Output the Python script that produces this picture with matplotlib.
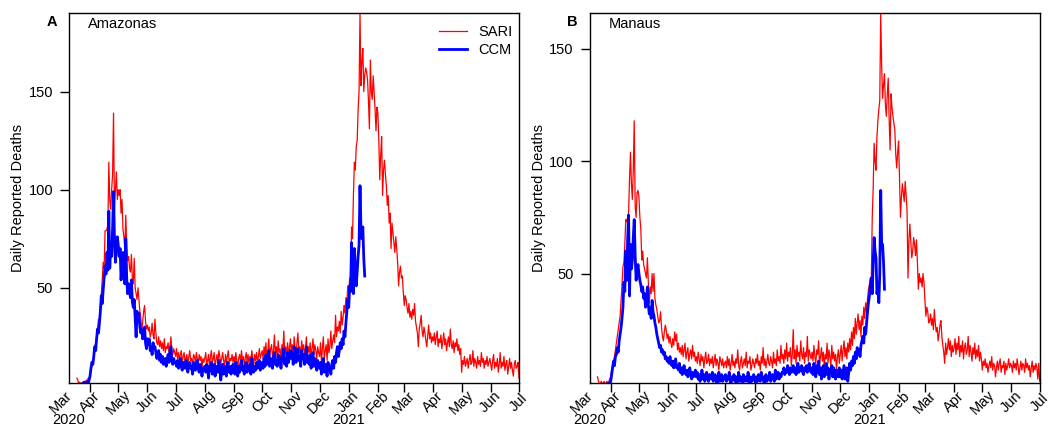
import numpy as np
import pandas as pd
import matplotlib
matplotlib.use('Agg')
import matplotlib.pyplot as plt
import matplotlib.dates as mdates
import matplotlib.transforms as mtrans

plt.rcParams['font.family'] = ['Liberation Sans', 'DejaVu Sans']
plt.rcParams['font.size'] = 10.5

# daily reported deaths, Amazonas, SARI (from 2020-03-18)
sari_am = [
    4, 3, 1, 2, 1, 1, 2, 1, 2, 1, 3, 2, 4, 3,
    5, 8, 10, 12, 14, 19, 22, 25, 29, 34, 31, 40, 47, 54, 63, 60, 79, 79, 80, 82, 114, 95, 90, 100, 108, 139, 90, 100, 109, 95,
    100, 97, 100, 88, 95, 80, 76, 70, 87, 72, 64, 66, 60, 58, 67, 55, 52, 65, 50, 47, 44, 50, 44, 38, 35, 27, 33, 38, 41, 33, 29,
    31, 28, 30, 25, 27, 32, 26, 24, 34, 27, 22, 21, 25, 20, 23, 19, 22, 18, 24, 17, 20, 19, 22, 17, 20, 25, 18, 16, 19, 17,
    15, 19, 14, 17, 13, 16, 18, 12, 15, 17, 13, 14, 16, 11, 15, 18, 13, 14, 10, 16, 15, 12, 17, 14, 11, 16, 13, 15, 9, 14, 12,
    14, 17, 11, 13, 16, 9, 15, 18, 12, 14, 17, 10, 13, 16, 12, 18, 15, 11, 14, 17, 13, 9, 16, 12, 15, 18, 11, 14, 13, 16, 12,
    15, 11, 17, 13, 9, 14, 16, 12, 18, 13, 15, 10, 14, 17, 12, 16, 11, 15, 13, 18, 14, 10, 16, 13, 17, 12, 15, 19, 14, 16,
    18, 14, 20, 16, 22, 13, 17, 24, 15, 19, 21, 14, 18, 26, 16, 20, 15, 23, 17, 19, 13, 21, 18, 28, 16, 20, 14, 22, 17, 19, 24,
    18, 21, 15, 25, 19, 16, 22, 27, 17, 20, 14, 23, 18, 21, 16, 19, 25, 15, 20, 17, 22, 14, 19, 24, 16, 21, 18, 13, 20, 17,
    15, 22, 12, 19, 25, 14, 18, 21, 13, 24, 17, 20, 28, 19, 23, 26, 22, 36, 25, 30, 28, 33, 27, 38, 31, 35, 41, 37, 45, 42, 51,
    48, 55, 53, 81, 75, 97, 114, 110, 122, 125, 141, 150, 190, 153, 165, 172, 150, 158, 162, 160, 156, 145, 131, 166, 150, 146, 158, 150, 141, 130, 142,
    139, 125, 105, 118, 127, 97, 110, 115, 108, 102, 92, 97, 83, 88, 70, 83, 78, 73, 68, 76, 70, 63, 51, 58, 61, 55, 56, 48,
    41, 46, 44, 40, 37, 42, 35, 38, 34, 39, 36, 42, 33, 30, 27, 20, 29, 32, 36, 28, 25, 30, 27, 23, 20, 26, 31, 24, 27, 22, 25,
    23, 27, 21, 25, 28, 20, 24, 22, 26, 19, 23, 27, 21, 24, 18, 22, 25, 20, 29, 21, 19, 23, 17, 22, 20, 24, 18, 21, 16, 19,
    7, 13, 11, 15, 10, 12, 14, 9, 13, 16, 11, 12, 18, 10, 14, 12, 9, 15, 11, 13, 10, 17, 12, 14, 9, 13, 11, 15, 10, 12, 14,
    11, 8, 13, 16, 9, 12, 10, 14, 7, 11, 17, 9, 12, 10, 15, 8, 11, 13, 6, 10, 14, 9, 12, 8, 5, 11, 13, 9, 10, 12,
    4,
]

# daily reported deaths, Amazonas, CCM (from 2020-03-24)
ccm_am = [
    1, 1, 2, 1, 1, 2, 1, 3,
    5, 9, 12, 11, 15, 20, 18, 24, 29, 27, 32, 38, 46, 42, 49, 55, 61, 57, 68, 59, 89, 60, 71, 66, 80, 99, 75, 63, 70, 76,
    72, 66, 70, 54, 62, 68, 58, 52, 75, 55, 47, 52, 49, 45, 54, 43, 40, 44, 35, 25, 38, 33, 37, 30, 27, 29, 24, 27, 30, 22, 19,
    24, 21, 24, 18, 20, 16, 22, 19, 20, 17, 14, 15, 18, 13, 16, 12, 15, 11, 12, 14, 10, 13, 16, 12, 18, 20, 13, 11, 14, 12,
    12, 10, 13, 9, 11, 14, 10, 8, 12, 11, 9, 13, 10, 7, 11, 12, 9, 10, 6, 12, 11, 8, 10, 13, 9, 7, 11, 10, 5, 9, 8,
    10, 7, 11, 9, 4, 10, 8, 12, 6, 9, 11, 5, 8, 10, 7, 13, 9, 3, 8, 11, 6, 10, 9, 5, 12, 8, 7, 10, 6, 9, 11,
    9, 6, 12, 8, 5, 10, 7, 11, 13, 8, 10, 6, 9, 12, 7, 10, 8, 11, 6, 14, 9, 7, 10, 8, 12, 9, 11, 13, 8, 10,
    12, 9, 14, 10, 16, 11, 13, 18, 10, 14, 12, 9, 15, 17, 11, 13, 10, 16, 12, 14, 9, 15, 13, 19, 11, 14, 10, 17, 12, 15, 18,
    14, 17, 11, 20, 15, 12, 16, 19, 13, 15, 10, 18, 14, 16, 11, 13, 20, 12, 15, 11, 16, 9, 13, 17, 10, 14, 12, 8, 13, 10,
    9, 12, 6, 10, 14, 7, 11, 9, 5, 12, 8, 10, 6, 11, 13, 9, 15, 12, 17, 20, 15, 18, 22, 19, 24, 21, 28, 25, 32, 38, 44,
    40, 51, 48, 73, 62, 47, 70, 60, 51, 58, 66, 72, 102, 80, 75, 81, 65, 56,
]

# daily reported deaths, Manaus, SARI (from 2020-03-18)
sari_ma = [
    4, 2, 1, 1, 2, 1, 1, 2, 1, 1, 2, 1, 2, 3,
    4, 7, 9, 11, 13, 16, 19, 22, 25, 28, 31, 38, 45, 53, 55, 63, 74, 73, 75, 77, 92, 104, 90, 83, 96, 118, 80, 75, 86, 87,
    84, 75, 70, 56, 60, 54, 52, 50, 48, 57, 46, 37, 44, 41, 50, 42, 50, 39, 36, 34, 31, 28, 29, 33, 26, 22, 20, 24, 27, 25, 21,
    23, 19, 22, 19, 17, 21, 18, 24, 20, 23, 16, 19, 15, 17, 14, 18, 13, 16, 19, 12, 15, 17, 11, 14, 16, 12, 18, 13, 15, 11,
    13, 10, 15, 12, 9, 14, 11, 13, 8, 12, 15, 10, 11, 14, 9, 12, 10, 13, 8, 11, 14, 9, 12, 10, 7, 13, 11, 9, 12, 8, 10,
    11, 8, 13, 9, 12, 7, 10, 14, 9, 11, 8, 12, 10, 16, 9, 7, 11, 13, 8, 10, 12, 9, 15, 8, 11, 10, 13, 7, 9, 12, 10,
    8, 12, 10, 14, 9, 11, 7, 13, 10, 17, 9, 12, 8, 11, 14, 10, 9, 13, 11, 8, 15, 10, 12, 9, 16, 11, 13, 10, 18, 12,
    14, 10, 16, 12, 19, 11, 15, 13, 17, 9, 14, 25, 12, 16, 10, 18, 13, 15, 11, 20, 14, 12, 17, 10, 15, 13, 22, 11, 16, 14, 12,
    15, 11, 18, 13, 10, 16, 14, 20, 9, 13, 17, 11, 15, 8, 14, 12, 19, 10, 16, 13, 9, 18, 12, 15, 11, 14, 7, 13, 16, 10,
    14, 18, 11, 16, 20, 13, 17, 12, 19, 15, 21, 16, 24, 18, 26, 21, 30, 23, 28, 32, 25, 29, 22, 31, 27, 35, 30, 37, 33, 39, 43,
    45, 48, 47, 75, 88, 108, 100, 96, 111, 118, 123, 127, 166, 143, 128, 134, 139, 125, 120, 130, 137, 118, 105, 130, 124, 120, 117, 114, 103, 97, 104,
    109, 92, 75, 84, 90, 86, 82, 91, 85, 78, 48, 65, 72, 64, 57, 60, 66, 63, 58, 65, 55, 43, 50, 46, 48, 44, 50, 46,
    38, 31, 35, 33, 28, 29, 32, 27, 30, 25, 34, 28, 24, 26, 20, 23, 27, 29, 22, 18, 15, 10, 19, 14, 17, 21, 16, 20, 13, 18, 15,
    17, 21, 14, 19, 16, 22, 13, 18, 15, 20, 12, 17, 19, 14, 16, 22, 13, 18, 15, 11, 17, 14, 19, 12, 16, 13, 18, 11, 15, 12,
    7, 11, 9, 12, 8, 10, 6, 9, 11, 8, 13, 7, 10, 9, 4, 8, 11, 7, 10, 12, 6, 9, 8, 11, 5, 10, 7, 9, 12, 8, 10,
    9, 6, 11, 8, 10, 7, 12, 9, 5, 8, 11, 7, 10, 9, 6, 12, 8, 10, 7, 9, 4, 8, 11, 6, 9, 7, 10, 8, 3, 10,
    2,
]

# daily reported deaths, Manaus, CCM (from 2020-03-29)
ccm_ma = [
    1, 1, 1,
    2, 5, 8, 11, 9, 13, 14, 17, 15, 20, 23, 26, 30, 35, 46, 42, 60, 47, 65, 76, 40, 63, 52, 56, 66, 74, 58, 47, 51, 54,
    50, 47, 45, 42, 44, 39, 41, 35, 38, 44, 36, 32, 35, 30, 38, 33, 31, 28, 26, 23, 21, 19, 17, 18, 15, 16, 14, 15, 12, 13, 11,
    12, 10, 13, 10, 9, 11, 8, 10, 12, 8, 9, 7, 10, 6, 8, 5, 7, 9, 6, 5, 7, 4, 6, 8, 5, 3, 6, 4, 5, 7,
    4, 6, 3, 5, 2, 4, 7, 3, 5, 2, 4, 6, 3, 2, 5, 4, 3, 6, 2, 4, 5, 3, 1, 4, 6, 2, 3, 5, 2, 4, 3,
    5, 2, 4, 3, 6, 2, 1, 4, 3, 5, 2, 4, 1, 3, 6, 2, 4, 3, 1, 5, 2, 3, 4, 2, 6, 3, 1, 4, 2, 3, 5,
    3, 1, 4, 2, 5, 3, 2, 6, 3, 4, 1, 3, 5, 2, 4, 3, 6, 2, 3, 5, 4, 2, 7, 3, 4, 6, 3, 5, 4, 6,
    6, 8, 5, 7, 6, 9, 7, 5, 8, 6, 7, 9, 6, 8, 5, 7, 10, 6, 8, 7, 9, 6, 5, 8, 7, 9, 6, 8, 10, 7, 6,
    8, 5, 10, 7, 4, 9, 6, 11, 5, 8, 3, 7, 9, 4, 6, 10, 5, 8, 3, 7, 6, 9, 4, 8, 5, 3, 7, 6, 4, 8,
    4, 7, 3, 6, 9, 3, 5, 8, 2, 6, 10, 7, 11, 9, 13, 10, 15, 12, 17, 14, 16, 13, 18, 20, 22, 19, 26, 23, 28, 33, 37,
    40, 45, 48, 41, 55, 66, 60, 57, 41, 45, 37, 50, 87, 63, 63, 55, 43,
]

panels = [
    ("A", "Amazonas", sari_am, "2020-03-18", ccm_am, "2020-03-24", (1.5, 190)),
    ("B", "Manaus", sari_ma, "2020-03-18", ccm_ma, "2020-03-29", (1.25, 166)),
]

fig = plt.figure(figsize=(10.48, 4.26), dpi=100)
lefts = [69 / 1048, 589.7 / 1048]
ticks = pd.date_range("2020-04-01", "2021-07-01", freq="MS")
x0 = mdates.date2num(pd.Timestamp("2020-03-09 16:00"))
x1 = mdates.date2num(pd.Timestamp("2021-07-01"))

for (letter, name, sari, s_start, ccm, c_start, ylim), left in zip(panels, lefts):
    ax = fig.add_axes([left, 43 / 426, 450 / 1048, 370 / 426])
    d1 = pd.date_range(s_start, periods=len(sari), freq="D")
    d2 = pd.date_range(c_start, periods=len(ccm), freq="D")
    ax.plot(d1, sari, color="#ff0000", lw=0.9, label="SARI")
    ax.plot(d2, ccm, color="#0000ff", lw=2.0, label="CCM")
    ax.set_xlim(x0, x1)
    ax.set_ylim(*ylim)
    ax.set_yticks([50, 100, 150])
    ax.set_xticks(mdates.date2num(ticks))
    ax.set_xticklabels([t.strftime("%b") for t in ticks], rotation=45,
                       ha="center", va="center", rotation_mode="anchor")
    ax.tick_params(direction="out", length=6.5, width=1, pad=5)
    ax.tick_params(axis="x", pad=7.2)
    for sp in ax.spines.values():
        sp.set_linewidth(1.0)
    ax.set_ylabel("Daily Reported Deaths")
    ax.yaxis.set_label_coords(-0.097, 0.5)
    trans = mtrans.blended_transform_factory(ax.transData, ax.transAxes)
    ax.text(mdates.date2num(pd.Timestamp("2020-03-01")), -0.0514, "Mar",
            transform=trans, rotation=45, ha="center", va="center",
            rotation_mode="anchor", clip_on=False)
    ax.text(x0, -0.1, "2020", transform=trans, ha="center", va="center")
    ax.text(mdates.date2num(pd.Timestamp("2021-01-01")), -0.1, "2021",
            transform=trans, ha="center", va="center")
    ax.text(0.042, 0.97, name, transform=ax.transAxes, ha="left", va="center")
    fig.text(left - 17 / 1048, 1 - 22 / 426, letter, fontweight="bold",
             ha="center", va="center")
    if letter == "A":
        ax.legend(loc="upper right", bbox_to_anchor=(1.013, 1.0), frameon=False,
                  handlelength=1.9, borderaxespad=0.45, labelspacing=0.25)

fig.savefig("out.png", dpi=100)
